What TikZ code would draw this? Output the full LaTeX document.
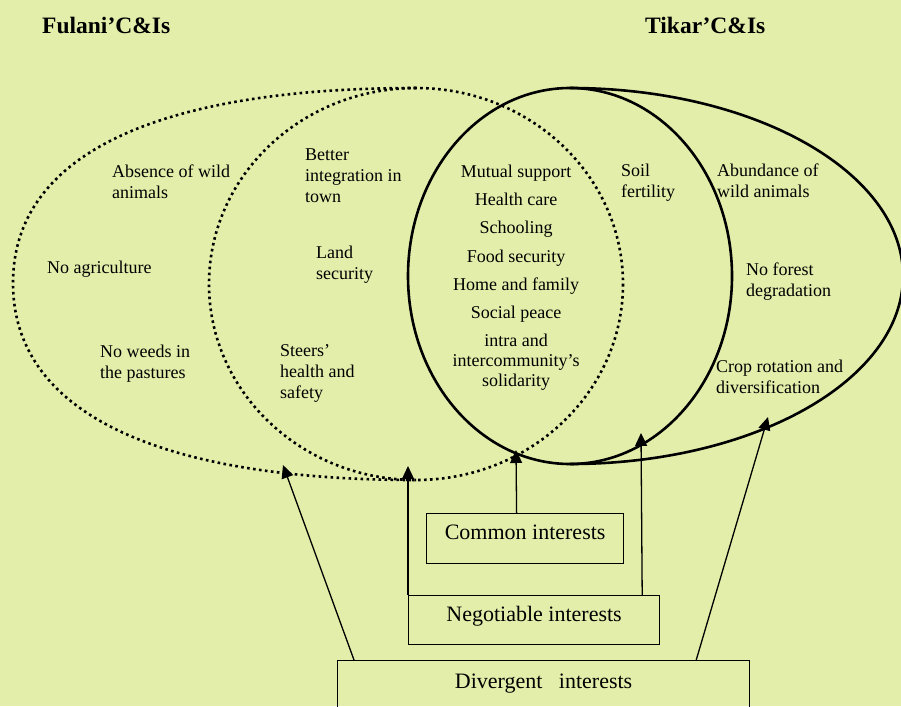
\documentclass[tikz,border=0pt]{standalone}
\usepackage{fontspec}
\setmainfont{Liberation Serif}
\usetikzlibrary{arrows.meta}
\definecolor{paper}{RGB}{227,238,170}
\begin{document}
\begin{tikzpicture}[x=1pt,y=-1pt,
  % multi-line labels are placed by the baseline of their last line
  lbl/.style={anchor=base west, inner sep=0pt, align=left, font=\fontsize{18}{21}\selectfont},
  item/.style={anchor=base, inner sep=0pt, align=center, font=\fontsize{18}{20}\selectfont},
  ttl/.style={anchor=base west, inner sep=0pt, font=\fontsize{23.5}{26}\selectfont\bfseries},
  frame/.style={draw, line width=1.2pt, inner xsep=0pt, inner ysep=0pt, font=\fontsize{22}{26}\selectfont},
  dots/.style={line width=2.6pt, dash pattern=on 2.6pt off 3.4pt},
  rim/.style={line width=2.6pt},
  up/.style={line width=1.3pt, -{Triangle[length=13pt,width=12pt]}}
]
\fill[paper] (0,0) rectangle (901,706);
\useasboundingbox (0,0) rectangle (901,706);
\clip (0,0) rectangle (901,706);

% titles
\node[ttl] (tf) at (42,34) {Fulani’C\&Is};
\node[ttl] (tt) at (645,34) {Tikar’C\&Is};

% Fulani sets (dotted)
\draw[dots] (416,284) ellipse [x radius=207, y radius=196];
\draw[dots] (416,88) .. controls (154,88) and (13,156) .. (13,283)
                     .. controls (13,411) and (154,480) .. (416,480);

% Tikar sets (solid)
\draw[rim] (570,276) ellipse [x radius=162, y radius=188];
\draw[rim] (570,88) .. controls (754,88) and (903,172) .. (903,276)
                    .. controls (903,380) and (754,464) .. (570,464);

% Fulani-only labels
\node[lbl] (l1) at (112,198) {Absence of wild\\animals};
\node[lbl] (l2) at (47,273) {No agriculture};
\node[lbl] (l3) at (100,378) {No weeds in\\the pastures};
\node[lbl] (l4) at (305,202) {Better\\integration in\\town};
\node[lbl] (l5) at (316,279) {Land\\security};
\node[lbl] (l6) at (280,398) {Steers’\\health and\\safety};

% shared labels
\node[item] (c1) at (516,177) {Mutual support};
\node[item] (c2) at (516,205) {Health care};
\node[item] (c3) at (516,233) {Schooling};
\node[item] (c4) at (516,262) {Food security};
\node[item] (c5) at (516,290) {Home and family};
\node[item] (c6) at (516,318) {Social peace};
\node[item] (c7) at (516,386) {intra and\\intercommunity’s\\solidarity};

% Tikar-only labels
\node[lbl] (r1) at (621,197) {Soil\\fertility};
\node[lbl] (r2) at (717,197) {Abundance of\\wild animals};
\node[lbl] (r3) at (746,296) {No forest\\degradation};
\node[lbl] (r4) at (716,393) {Crop rotation and\\diversification};

% interest boxes
\node[frame, anchor=north west, minimum width=197pt, text height=26pt, text depth=24pt]
  (com) at (426,513) {Common interests};
\node[frame, anchor=north west, minimum width=251pt, text height=26pt, text depth=23pt]
  (neg) at (408,595) {Negotiable interests};
\node[frame, anchor=north west, minimum width=412pt, text height=28pt, text depth=40pt]
  (div) at (337,660) {Divergent\ \ \ interests};

% arrow targets on the set outlines
\coordinate (tA) at (283,465);
\coordinate (tB) at (408,466);
\coordinate (tC) at (516,450);
\coordinate (tD) at (641,433);
\coordinate (tE) at (768,417);

\draw[up] ([xshift=17pt]div.north west) -- (tA);
\draw[up] (neg.north west) -- (tB);
\draw[up] ([xshift=-8.5pt]com.north) -- (tC);
\draw[up] ([xshift=-18pt]neg.north east) -- (tD);
\draw[up] ([xshift=-54pt]div.north east) -- (tE);
\end{tikzpicture}
\end{document}
